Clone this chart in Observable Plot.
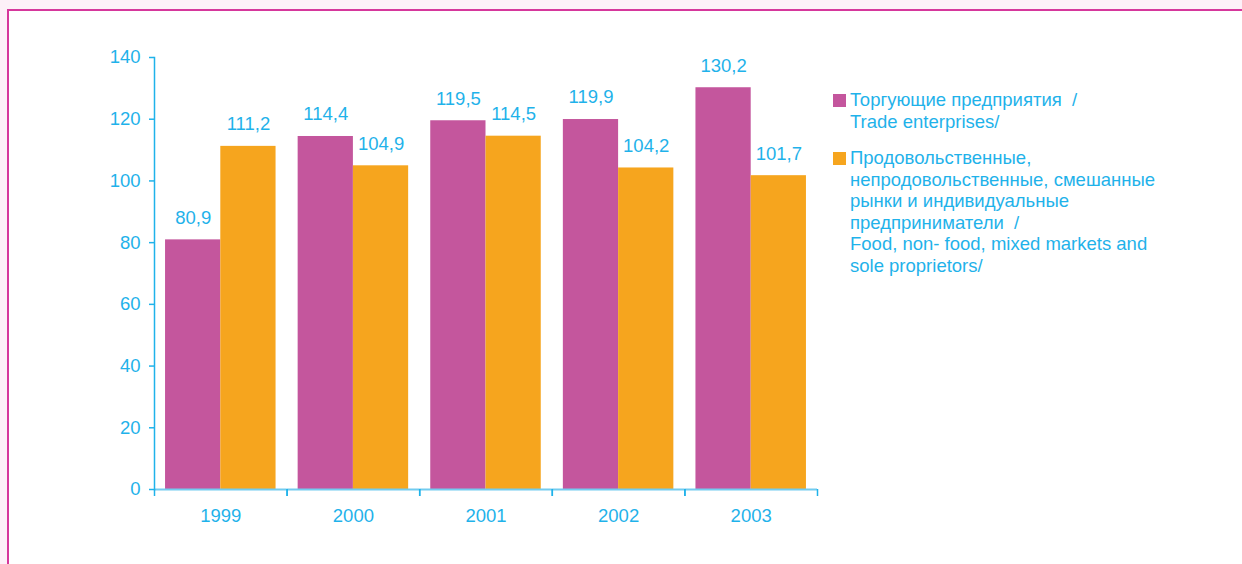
<!DOCTYPE html>
<html>
<head>
<meta charset="utf-8">
<script src="https://cdn.jsdelivr.net/npm/d3@7"></script>
<script src="https://cdn.jsdelivr.net/npm/@observablehq/plot@0.6"></script>
<style>
  html, body { margin: 0; padding: 0; }
  body { width: 1242px; height: 564px; background: #fdf0f8; overflow: hidden; position: relative;
         font-family: "Liberation Sans", Arial, sans-serif; }
  #frame { position: absolute; left: 7px; top: 9px; width: 1300px; height: 700px; background: #fff;
           border-left: 2.5px solid #d6379c; border-top: 2.5px solid #d6379c; box-sizing: border-box; }
  #chart { position: absolute; left: 0; top: 0; }
  #legend { position: absolute; left: 833px; top: 89px; color: #1fb2ea; font-size: 18.5px; line-height: 21.5px; }
  .item { display: flex; align-items: flex-start; margin-bottom: 15px; }
  .sw { width: 13px; height: 13px; margin-top: 5px; margin-right: 4px; flex: none; }
  .lbl { white-space: pre; }
</style>
</head>
<body>
<div id="frame"></div>
<div id="chart"></div>
<div id="legend"></div>
<script>
const years = ["1999", "2000", "2001", "2002", "2003"];
const series = [
  "Торгующие предприятия  /\nTrade enterprises/",
  "Продовольственные,\nнепродовольственные, смешанные\nрынки и индивидуальные\nпредприниматели  /\nFood, non- food, mixed markets and\nsole proprietors/"
];
const tradeEnterprises = [80.9, 114.4, 119.5, 119.9, 130.2];
const marketsAndProprietors = [111.2, 104.9, 114.5, 104.2, 101.7];
const yTicks = [0, 20, 40, 60, 80, 100, 120, 140];
const colors = ["#c4569d", "#f6a51e"];
const textColor = "#1fb2ea";

const data = [];
years.forEach((yr, i) => {
  data.push({year: yr, series: series[0], value: tradeEnterprises[i]});
  data.push({year: yr, series: series[1], value: marketsAndProprietors[i]});
});

const W = 1242, H = 564, ML = 154, MR = 425, MT = 57, MB = 75;
const band = (W - ML - MR) / years.length;
const fmt = v => v.toFixed(1).replace(".", ",");
const FS = 18.5;

const chart = Plot.plot({
  width: W, height: H,
  marginLeft: ML, marginRight: MR, marginTop: MT, marginBottom: MB,
  style: {background: "transparent", fontFamily: "'Liberation Sans', Arial, sans-serif", fontSize: FS + "px", color: textColor},
  fx: {domain: years, padding: 0, round: false, label: null},
  x: {domain: series, paddingInner: 0, paddingOuter: 0.2, round: false, axis: null},
  y: {domain: [0, 140], label: null},
  color: {domain: series, range: colors},
  marks: [
    Plot.barY(data, {fx: "year", x: "series", y: "value", fill: "series"}),
    Plot.text(data, {fx: "year", x: "series", y: "value", text: d => fmt(d.value), dy: -22, fill: textColor, fontSize: FS}),
    Plot.ruleY([0], {stroke: "#72ccf0", strokeWidth: 2}),
    Plot.frame({anchor: "left", facetAnchor: "left", stroke: textColor, strokeWidth: 1.5}),
    Plot.axisY(yTicks, {tickSize: 5, tickPadding: 9, stroke: textColor, fill: textColor, fontSize: FS, strokeWidth: 1.5, label: null}),
    Plot.axisFx({anchor: "bottom", tickSize: 0, tickPadding: 19, fill: textColor, fontSize: FS, label: null}),
    Plot.axisFx({anchor: "bottom", tickSize: 7, tickFormat: null, dx: -band / 2, stroke: textColor, strokeWidth: 1.5, label: null}),
    Plot.axisFx(years.slice(-1), {anchor: "bottom", tickSize: 7, tickFormat: null, dx: band / 2, stroke: textColor, strokeWidth: 1.5, label: null})
  ]
});
document.getElementById("chart").appendChild(chart);

const legend = document.getElementById("legend");
series.forEach((s, i) => {
  const item = document.createElement("div");
  item.className = "item";
  const sw = document.createElement("div");
  sw.className = "sw";
  sw.style.background = colors[i];
  const lbl = document.createElement("div");
  lbl.className = "lbl";
  lbl.textContent = s;
  item.appendChild(sw);
  item.appendChild(lbl);
  legend.appendChild(item);
});
</script>
</body>
</html>
